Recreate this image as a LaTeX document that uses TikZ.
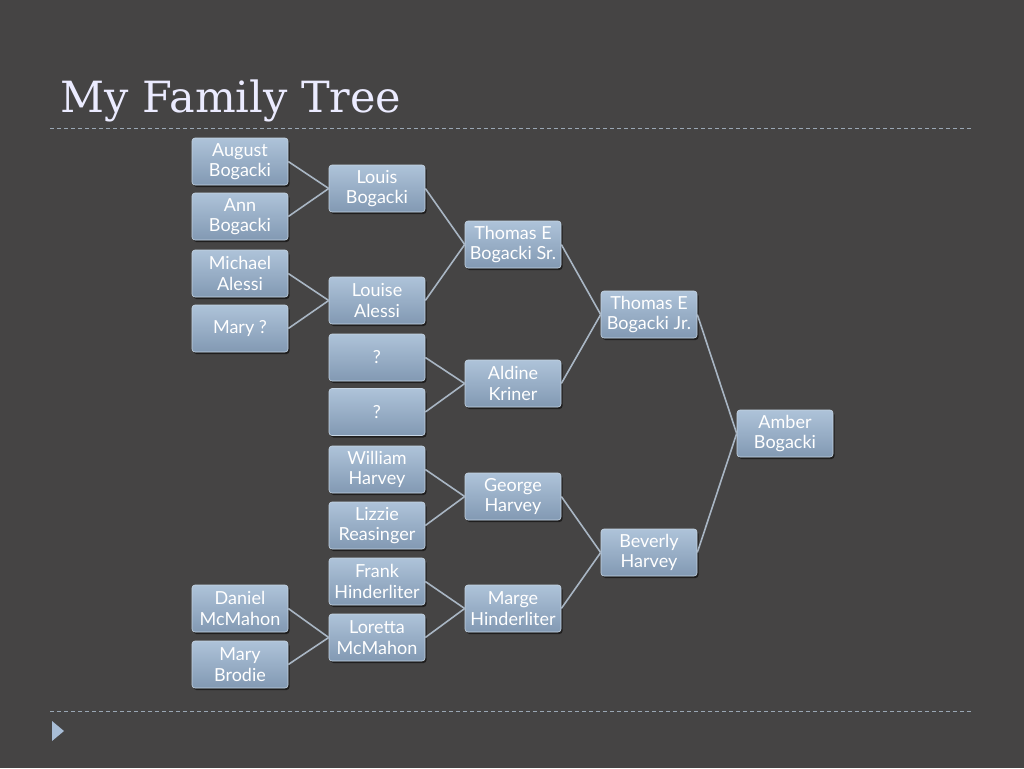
\documentclass[tikz,border=0pt]{standalone}
\usepackage{fontspec}
\setmainfont{Lato}
\newfontfamily\titlefont{DejaVu Serif}
\usetikzlibrary{shadows}
\definecolor{bg}{HTML}{454444}
\definecolor{boxtop}{HTML}{AEC3D9}
\definecolor{boxbot}{HTML}{8299B3}
\definecolor{edgecol}{HTML}{A9B6C4}
\definecolor{dashcol}{HTML}{9AA7B4}
\definecolor{tri}{HTML}{A8BDD6}
\begin{document}
\begin{tikzpicture}[x=1pt,y=-1pt,
  person/.style={draw=boxtop!70!white, line width=0.6pt, rounded corners=3pt,
    top color=boxtop, bottom color=boxbot, minimum width=96pt, minimum height=47pt,
    inner sep=1pt, align=center, text=white, font=\fontsize{18}{20.5}\selectfont,
    drop shadow={shadow xshift=1.5pt, shadow yshift=-2pt, opacity=0.55, fill=black}},
  link/.style={draw=edgecol, line width=1.6pt},
  rule/.style={draw=dashcol, line width=1pt, dash pattern=on 4pt off 3pt}]
\fill[bg] (0,0) rectangle (1024,768);
\useasboundingbox (0,0) rectangle (1024,768);
\node[anchor=west, text=white!92!blue, font=\titlefont\fontsize{43}{50}\selectfont] (title) at (57,101) {My Family Tree};
\coordinate (d1a) at (50,128); \coordinate (d1b) at (973,128);
\coordinate (d2a) at (50,711); \coordinate (d2b) at (973,711);
\draw[rule] (d1a) -- (d1b);
\draw[rule] (d2a) -- (d2b);
\fill[tri] (52,721) -- (64,731) -- (52,741) -- cycle;
% column 1
\node[person] (aug) at (240,161.5) {August\\Bogacki};
\node[person] (ann) at (240,216.5) {Ann\\Bogacki};
\node[person] (mic) at (240,273.5) {Michael\\Alessi};
\node[person] (mary) at (240,328.5) {Mary ?};
\node[person] (dan) at (240,608.5) {Daniel\\McMahon};
\node[person] (mbr) at (240,664.5) {Mary\\Brodie};
% column 2
\node[person] (lou) at (377,188.5) {Louis\\Bogacki};
\node[person] (lse) at (377,300.5) {Louise\\Alessi};
\node[person] (q1) at (377,357.5) {?};
\node[person] (q2) at (377,412) {?};
\node[person] (wil) at (377,469.5) {William\\Harvey};
\node[person] (liz) at (377,525.5) {Lizzie\\Reasinger};
\node[person] (fra) at (377,581.5) {Frank\\Hinderliter};
\node[person] (lor) at (377,637.5) {Loretta\\McMahon};
% column 3
\node[person] (tsr) at (513,244.5) {Thomas E\\Bogacki Sr.};
\node[person] (ald) at (513,383.5) {Aldine\\Kriner};
\node[person] (geo) at (513,496.5) {George\\Harvey};
\node[person] (mar) at (513,608.5) {Marge\\Hinderliter};
% column 4
\node[person] (tjr) at (649,314.5) {Thomas E\\Bogacki Jr.};
\node[person] (bev) at (649,552.5) {Beverly\\Harvey};
% column 5
\node[person] (amb) at (785,433.5) {Amber\\Bogacki};
% links
\foreach \c/\p in {aug/lou, ann/lou, mic/lse, mary/lse, dan/lor, mbr/lor,
  lou/tsr, lse/tsr, q1/ald, q2/ald, wil/geo, liz/geo, fra/mar, lor/mar,
  tsr/tjr, ald/tjr, geo/bev, mar/bev, tjr/amb, bev/amb}
  \draw[link] (\c.east) -- (\p.west);
\end{tikzpicture}
\end{document}
